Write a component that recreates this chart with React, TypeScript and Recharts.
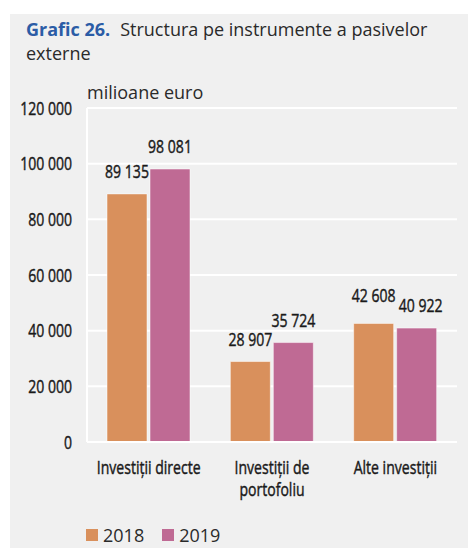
import React from 'react';
import { BarChart, Bar, XAxis, YAxis, CartesianGrid, LabelList, Text } from 'recharts';

const categories = ['Investiții directe', 'Investiții de portofoliu', 'Alte investiții'];
const values2018 = [89135, 28907, 42608];
const values2019 = [98081, 35724, 40922];
const yTicks = [0, 20000, 40000, 60000, 80000, 100000, 120000];
const seriesNames = ['2018', '2019'];

const COLORS = ['#d9905c', '#bf6a94'];
const SANS = "'Open Sans', 'Noto Sans', sans-serif";
// no condensed face installed, so squeeze Open Sans horizontally
const SX = 0.74;
const INK = '#1a1a1a';

const data = categories.map((name, i) => ({
  name,
  y2018: values2018[i],
  y2019: values2019[i],
}));

const fmt = (v: any) => String(v).replace(/\B(?=(\d{3})+(?!\d))/g, '\u00a0');

const NarrowText = ({ x, y, children, ...rest }: any) => (
  <g transform={`translate(${x},${y}) scale(${SX},1)`}>
    <Text
      x={0}
      y={0}
      fill={INK}
      stroke={INK}
      strokeWidth={0.45}
      style={{ fontFamily: SANS, fontSize: 19 }}
      {...rest}
    >
      {children}
    </Text>
  </g>
);

const CategoryTick = (props: any) => {
  const { x, y, payload } = props;
  return (
    <NarrowText x={x} y={y} width={118 / SX} textAnchor="middle" verticalAnchor="start" lineHeight="22px">
      {payload.value}
    </NarrowText>
  );
};

const ValueTick = (props: any) => {
  const { x, y, payload } = props;
  return (
    <NarrowText x={x} y={y} textAnchor="end" verticalAnchor="middle">
      {fmt(payload.value)}
    </NarrowText>
  );
};

// when both bars of a group are nearly the same height, nudge labels apart
const makeBarValue = (series: number) => (props: any) => {
  const { x, y, width, value, index } = props;
  const close = Math.abs(values2018[index] - values2019[index]) < 5000;
  const dx = close && series === 1 ? 4 : 0;
  const dy = close && series === 0 ? -5 : 0;
  return (
    <NarrowText x={x + width / 2 + dx} y={y - 16 + dy} textAnchor="middle" verticalAnchor="end">
      {fmt(value)}
    </NarrowText>
  );
};

export default function App() {
  return (
    <div
      style={{
        position: 'absolute',
        left: 10,
        top: 14,
        width: 458,
        height: 534,
        background: '#f0f0f0',
        fontFamily: SANS,
        color: '#2a2a2a',
      }}
    >
      <div style={{ position: 'absolute', left: 16, top: 3, fontSize: 18, lineHeight: '24px', whiteSpace: 'nowrap' }}>
        <span style={{ color: '#2b5ca6', fontWeight: 700, marginRight: 10 }}>Grafic 26.</span>
        <span>Structura pe instrumente a pasivelor</span>
      </div>
      <div style={{ position: 'absolute', left: 16, top: 27, fontSize: 18, lineHeight: '24px' }}>externe</div>
      <div style={{ position: 'absolute', left: 77, top: 66, fontSize: 18 }}>milioane euro</div>

      <BarChart
        width={458}
        height={534}
        data={data}
        margin={{ top: 94, right: 11, bottom: 76, left: 0 }}
        barSize={40}
        barGap={3}
      >
        <CartesianGrid vertical={false} stroke="#ffffff" strokeWidth={2} />
        <XAxis
          dataKey="name"
          axisLine={{ stroke: '#ffffff', strokeWidth: 2 }}
          tickLine={false}
          tickSize={0}
          tickMargin={19}
          tick={<CategoryTick />}
          interval={0}
        />
        <YAxis
          width={77}
          domain={[0, 120000]}
          ticks={yTicks}
          axisLine={{ stroke: '#ffffff', strokeWidth: 2 }}
          tickLine={false}
          tickSize={0}
          tickMargin={15}
          tick={<ValueTick />}
        />
        <Bar dataKey="y2018" name={seriesNames[0]} fill={COLORS[0]} stroke="rgba(255,255,255,0.5)" strokeWidth={1} isAnimationActive={false}>
          <LabelList dataKey="y2018" content={makeBarValue(0)} />
        </Bar>
        <Bar dataKey="y2019" name={seriesNames[1]} fill={COLORS[1]} stroke="rgba(255,255,255,0.5)" strokeWidth={1} isAnimationActive={false}>
          <LabelList dataKey="y2019" content={makeBarValue(1)} />
        </Bar>
      </BarChart>

      <div style={{ position: 'absolute', left: 76, top: 509, display: 'flex', alignItems: 'center', fontSize: 18 }}>
        {seriesNames.map((s, i) => (
          <div key={s} style={{ display: 'flex', alignItems: 'center', marginRight: 18 }}>
            <span style={{ width: 12, height: 12, background: COLORS[i], display: 'inline-block', marginRight: 5 }} />
            <span>{s}</span>
          </div>
        ))}
      </div>
    </div>
  );
}
